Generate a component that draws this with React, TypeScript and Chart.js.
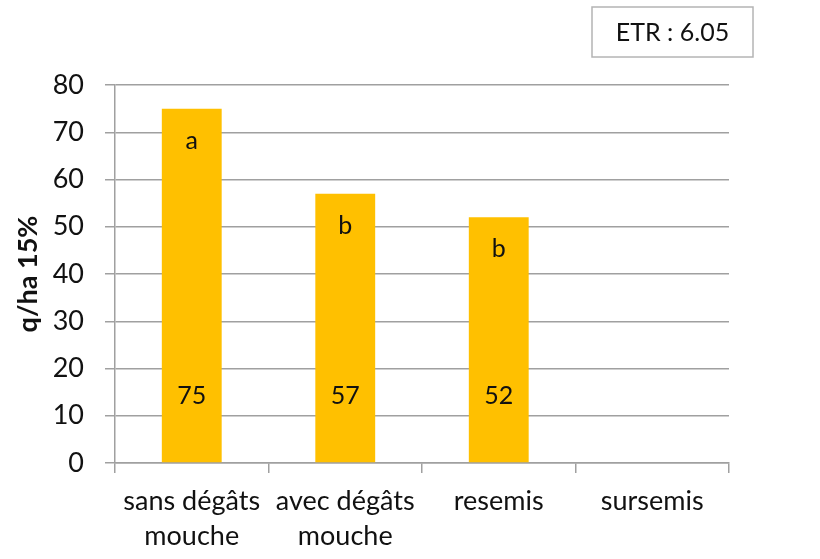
import React, { useEffect, useRef } from "react";
import { Chart, registerables } from "chart.js";

Chart.register(...registerables);

const categories: string[][] = [
  ["sans dégâts", "mouche"],
  ["avec dégâts", "mouche"],
  ["resemis"],
  ["sursemis"],
];
const yields: (number | null)[] = [75, 57, 52, null];
const groupLetters: string[] = ["a", "b", "b", ""];
const valueLabels: string[] = ["75", "57", "52", ""];
const valueLabelLevel = 14.2;
const etrText = "ETR : 6.05";
const yTicks = { min: 0, max: 80, step: 10 };

const FONT = "Lato, 'Open Sans', sans-serif";
const GRID = "#a0a0a0";
const TEXT = "#111111";

const labelPlugin = {
  id: "barLabels",
  afterDatasetsDraw(chart: any) {
    const ctx = chart.ctx;
    const meta = chart.getDatasetMeta(0);
    const yScale = chart.scales.y;
    ctx.save();
    ctx.fillStyle = TEXT;
    ctx.font = `25px ${FONT}`;
    ctx.textAlign = "center";
    ctx.textBaseline = "middle";
    meta.data.forEach((bar: any, i: number) => {
      const v = yields[i];
      if (v == null) return;
      const topPx = yScale.getPixelForValue(v);
      if (groupLetters[i]) ctx.fillText(groupLetters[i], bar.x, topPx + 32);
      if (valueLabels[i]) ctx.fillText(valueLabels[i], bar.x, yScale.getPixelForValue(valueLabelLevel));
    });
    // ETR box
    const bx = 592, by = 7, bw = 161, bh = 50;
    ctx.strokeStyle = "#b4b4b4";
    ctx.lineWidth = 1.5;
    ctx.strokeRect(bx, by, bw, bh);
    ctx.font = `25px ${FONT}`;
    ctx.fillText(etrText, bx + bw / 2, by + bh / 2 + 1);
    ctx.restore();
  },
};

export default function App() {
  const ref = useRef<HTMLCanvasElement | null>(null);
  useEffect(() => {
    if (!ref.current) return;
    const chart = new Chart(ref.current, {
      type: "bar",
      data: {
        labels: categories,
        datasets: [
          {
            data: yields,
            backgroundColor: "#FFC000",
            borderWidth: 0,
            categoryPercentage: 1,
            barPercentage: 0.39,
          },
        ],
      },
      options: {
        animation: false,
        responsive: true,
        maintainAspectRatio: false,
        layout: { padding: { left: 0, right: 91, top: 85, bottom: 0 } },
        plugins: {
          legend: { display: false },
          tooltip: { enabled: false },
        },
        scales: {
          x: {
            grid: {
              display: true,
              drawOnChartArea: false,
              drawTicks: true,
              tickLength: 10,
              color: GRID,
              lineWidth: 1.5,
              offset: true,
            },
            border: { display: true, color: GRID, width: 1.5 },
            ticks: {
              color: TEXT,
              font: { family: FONT, size: 27, lineHeight: "35px" } as any,
              padding: 11,
              maxRotation: 0,
              autoSkip: false,
            },
            afterFit(scale: any) {
              scale.height = 96;
            },
          },
          y: {
            min: yTicks.min,
            max: yTicks.max,
            grid: {
              color: GRID,
              lineWidth: 1.5,
              drawTicks: true,
              tickLength: 10,
            },
            border: { display: true, color: GRID, width: 1.5 },
            ticks: {
              stepSize: yTicks.step,
              color: TEXT,
              font: { family: FONT, size: 27 },
              padding: 21,
            },
            title: {
              display: true,
              text: "q/ha 15%",
              color: TEXT,
              font: { family: FONT, size: 27, weight: "bold" },
              padding: { top: 12, bottom: 0 },
            },
            afterFit(scale: any) {
              scale.width = 115;
            },
          },
        },
      },
      plugins: [labelPlugin],
    });
    return () => chart.destroy();
  }, []);
  return (
    <div style={{ position: "fixed", left: 0, top: 0, width: 820, height: 559, background: "#fff" }}>
      <canvas ref={ref} />
    </div>
  );
}
